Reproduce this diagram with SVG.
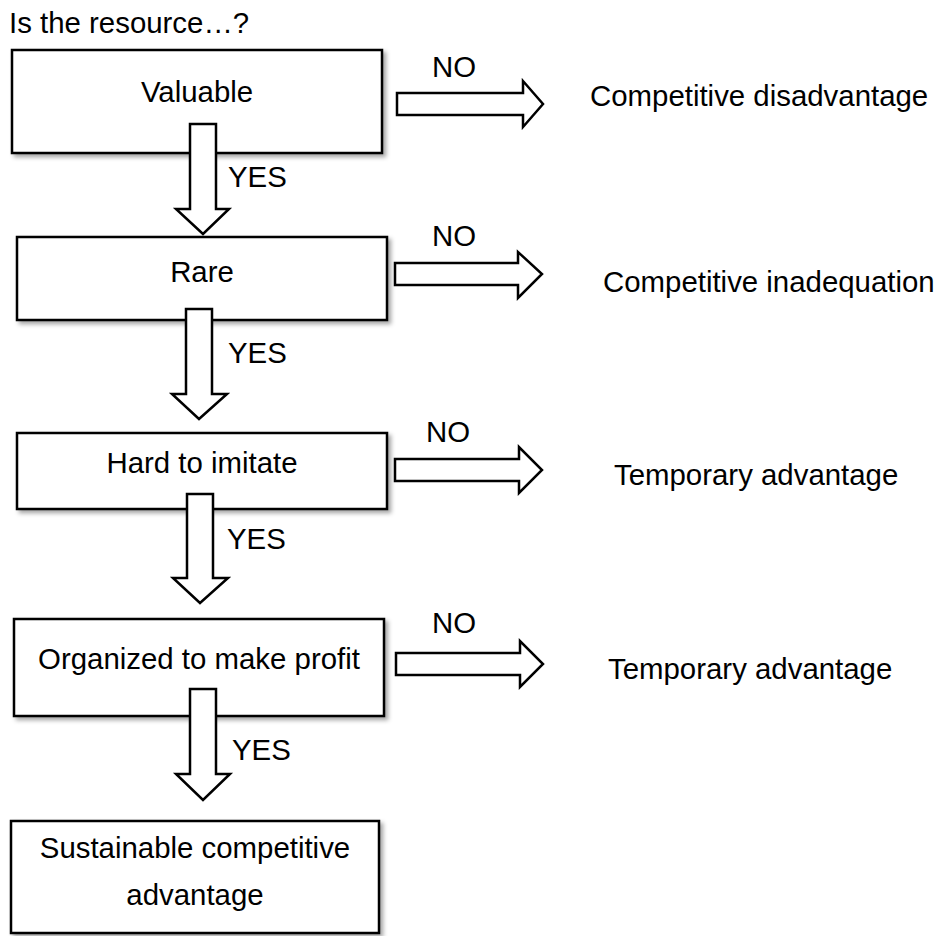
<svg xmlns="http://www.w3.org/2000/svg" width="939" height="936" viewBox="0 0 939 936">
  <style>
    text { font-family: "Liberation Sans", Arial, sans-serif; font-size: 29.4px; fill: #000; }
    .box { fill: #fff; stroke: #000; stroke-width: 2.5; filter: url(#shadow); }
    .arrow { fill: #fff; stroke: #000; stroke-width: 2.5; stroke-linejoin: miter; }
    .c { text-anchor: middle; }
  </style>
  <defs>
    <filter id="shadow" x="-5%" y="-10%" width="115%" height="130%">
      <feDropShadow dx="3" dy="3" stdDeviation="2" flood-color="#000" flood-opacity="0.35"/>
    </filter>
  </defs>
  <rect width="939" height="936" fill="#fff"/>

  <text x="9" y="33">Is the resource…?</text>

  <g id="node-valuable">
    <rect class="box" x="12" y="50" width="370" height="103"/>
    <text class="c" x="197" y="102">Valuable</text>
  </g>
  <g id="node-rare">
    <rect class="box" x="17" y="237" width="370" height="83"/>
    <text class="c" x="202" y="282">Rare</text>
  </g>
  <g id="node-imitate">
    <rect class="box" x="17" y="433" width="370" height="76"/>
    <text class="c" x="202" y="473">Hard to imitate</text>
  </g>
  <g id="node-organized">
    <rect class="box" x="14" y="619" width="370" height="97"/>
    <text class="c" x="199" y="669">Organized to make profit</text>
  </g>
  <g id="node-sustainable">
    <rect class="box" x="11" y="821" width="368" height="112"/>
    <text class="c" x="195" y="858">Sustainable competitive</text>
    <text class="c" x="195" y="905">advantage</text>
  </g>

  <g id="outcomes">
    <text x="590" y="106">Competitive disadvantage</text>
    <text x="603" y="292">Competitive inadequation</text>
    <text x="614" y="485">Temporary advantage</text>
    <text x="608" y="679">Temporary advantage</text>
  </g>

  <g id="connectors">
    <!-- YES block arrows -->
    <polygon class="arrow" points="190,124 216,124 216,209 229,209 203,234 176,209 190,209"/>
    <polygon class="arrow" points="186,309 212,309 212,394 227,394 199,419 172,394 186,394"/>
    <polygon class="arrow" points="187,494 213,494 213,578 228,578 200,603 173,578 187,578"/>
    <polygon class="arrow" points="190,689 216,689 216,774 230,774 203,800 176,774 190,774"/>
    <text x="228" y="187">YES</text>
    <text x="228" y="363">YES</text>
    <text x="227" y="549">YES</text>
    <text x="232" y="760">YES</text>

    <!-- NO block arrows -->
    <polygon class="arrow" points="397,93 523,93 523,81 543,104 523,127 523,115 397,115"/>
    <polygon class="arrow" points="395,263 518,263 518,252 542,274 518,298 518,285 395,285"/>
    <polygon class="arrow" points="395,459 519,459 519,447 542,470 519,493 519,481 395,481"/>
    <polygon class="arrow" points="396,653 520,653 520,641 543,664 520,687 520,675 396,675"/>
    <text x="432" y="77">NO</text>
    <text x="432" y="246">NO</text>
    <text x="426" y="442">NO</text>
    <text x="432" y="633">NO</text>
  </g>
</svg>
